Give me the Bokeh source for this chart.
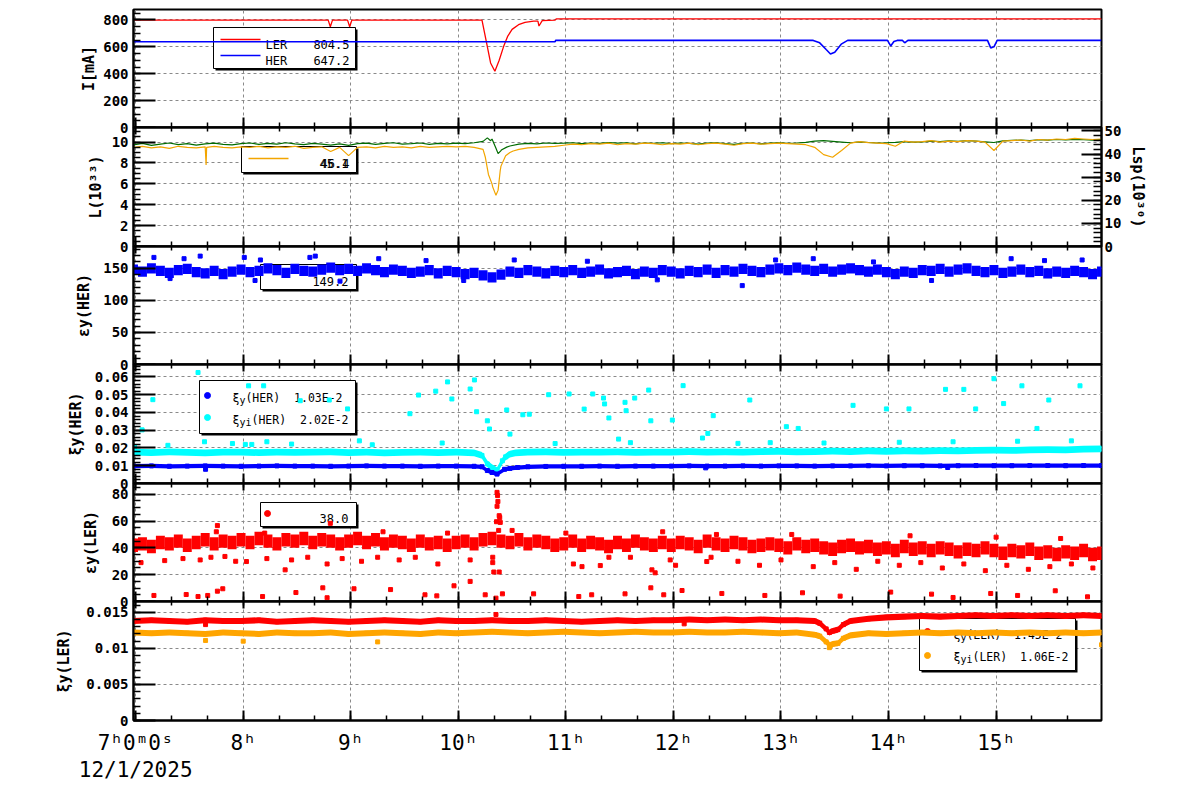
import numpy as np
from bokeh.plotting import figure
from bokeh.layouts import column
from bokeh.models import Range1d, LinearAxis, FixedTicker, CustomJSTickFormatter
from bokeh.core.properties import value
from bokeh.embed import file_html
from bokeh.resources import INLINE

# ------------------------------------------------------------------ data
X_START, X_END = 6.98, 15.98          # hours of 12/1/2025
HOURS = [7, 8, 9, 10, 11, 12, 13, 14, 15]
HOUR_LABELS = ["7ʰ0ᵐ0ˢ", "8ʰ", "9ʰ", "10ʰ", "11ʰ", "12ʰ", "13ʰ", "14ʰ", "15ʰ"]
DATE_LABEL = "12/1/2025"
TITLES = ["I[mA]", "L(10³³)", "εy(HER)", "ξy(HER)", "εy(LER)", "ξy(LER)"]
RIGHT_TITLE = "Lsp(10³⁰)"

# beam currents [mA]
LER_T = [6.98, 8.79, 8.81, 8.83, 8.97, 8.99, 9.01, 10.22, 10.26, 10.30, 10.34, 10.38, 10.42, 10.46,
         10.50, 10.56, 10.62, 10.70, 10.74, 10.75, 10.78, 10.90, 10.91, 15.98]
LER_MA = [799, 799, 750, 799, 799, 750, 799, 799, 640, 480, 418, 500, 600, 680,
          730, 765, 782, 792, 792, 755, 795, 799, 808, 808]
HER_T = [6.98, 10.90, 10.905, 13.30, 13.36, 13.42, 13.46, 13.50, 13.56, 13.62, 13.99, 14.02, 14.05,
         14.08, 14.13, 14.15, 14.18, 14.92, 14.95, 14.98, 15.01, 15.98]
HER_MA = [638, 638, 648, 648, 630, 580, 547, 560, 620, 648, 648, 607, 640, 648, 648, 630, 648,
          648, 592, 600, 648, 648]
CURRENT_NAMES = ["LER", "HER"]
CURRENT_LAST = ["804.5", "647.2"]

# 5-minute samples
T5 = X_START + np.arange(109) / 12.0
# luminosity L [1e33]
L_V = [9.5, 9.6, 9.45, 9.55, 9.4, 9.6, 9.5, 9.45, 9.55, 9.6, 9.5, 9.45,
       9.55, 9.5, 9.6, 9.45, 9.55, 9.5, 9.6, 9.4, 9.5, 9.55, 9.1, 9.5,
       8.7, 9.5, 9.55, 9.45, 9.6, 9.5, 9.55, 9.45, 9.6, 9.5, 9.55, 9.6,
       9.55, 9.6, 9.5, 9.3, 6.0, 7.7, 9.0, 9.3, 9.45, 9.5, 9.55, 9.6,
       9.7, 9.8, 9.75, 9.85, 9.8, 9.9, 9.75, 9.85, 9.8, 9.9, 9.85, 9.75,
       9.85, 9.8, 9.9, 9.75, 9.85, 9.9, 9.8, 9.7, 9.85, 9.9, 9.8, 9.85,
       9.9, 9.85, 9.8, 9.75, 9.5, 8.8, 8.55, 9.2, 9.9, 10.05, 9.95, 9.9,
       9.85, 9.6, 10.1, 10.0, 10.05, 10.15, 10.0, 10.1, 10.05, 10.15, 10.1, 10.0,
       9.2, 10.1, 10.15, 10.2, 10.1, 10.25, 10.2, 10.3, 10.25, 10.35, 10.3, 10.25, 10.3]
L_EXTRA_T = [7.655, 7.66, 10.25, 10.28, 10.32, 10.35, 10.37, 10.39, 10.44, 10.51]
L_EXTRA_V = [7.8, 9.5, 8.6, 6.9, 5.7, 4.9, 5.4, 7.3, 8.7, 9.15]
# specific luminosity Lsp [1e30]
LSP_V = [44.0, 44.6, 43.8, 44.3, 44.8, 44.1, 44.5, 43.9, 44.4, 44.7, 44.2, 44.0,
         44.5, 44.8, 44.2, 44.6, 44.3, 44.9, 44.4, 44.1, 44.6, 44.3, 43.9, 44.4,
         43.8, 44.5, 44.7, 44.2, 44.6, 44.9, 44.3, 44.5, 44.8, 44.2, 44.6, 44.4,
         44.7, 44.5, 44.9, 45.5, 46.5, 41.5, 43.5, 44.3, 44.6, 44.4, 44.8, 44.6,
         44.7, 44.9, 44.5, 44.8, 44.6, 45.0, 44.7, 44.9, 44.4, 44.8, 44.6, 44.9,
         44.5, 44.8, 44.6, 44.3, 44.7, 44.9, 44.5, 44.2, 44.6, 44.8, 44.4, 44.7,
         44.9, 44.6, 44.8, 45.1, 45.6, 45.8, 45.5, 45.2, 44.9, 45.3, 45.0, 44.8,
         44.9, 45.1, 45.4, 45.2, 45.3, 45.6, 45.4, 45.7, 45.5, 45.8, 45.6, 45.3,
         45.0, 45.7, 45.9, 46.1, 45.8, 46.2, 46.0, 46.3, 46.1, 46.4, 46.2, 46.0, 46.3]
LSP_EXTRA_T = [10.27, 10.30, 10.35, 10.37, 10.40, 10.45]
LSP_EXTRA_V = [47.0, 45.8, 42.5, 40.2, 41.8, 43.0]
LUMI_LEGEND = ["45.1", "46.4"]

# vertical emittance HER [pm]
EPSY_HER = [148, 145, 150, 146, 143, 147, 149, 144, 142, 146, 141, 145,
            148, 144, 146, 150, 147, 143, 149, 146, 145, 148, 151, 147,
            149, 146, 150, 147, 144, 148, 146, 143, 145, 147, 142, 146,
            144, 141, 143, 139, 136, 140, 145, 143, 147, 145, 142, 146,
            144, 147, 143, 145, 148, 142, 144, 146, 141, 145, 143, 147,
            145, 142, 146, 144, 148, 143, 147, 145, 149, 146, 144, 148,
            150, 147, 151, 148, 146, 149, 145, 148, 150, 147, 145, 148,
            144, 141, 145, 143, 147, 146, 149, 145, 148, 150, 146, 144,
            147, 143, 145, 148, 144, 146, 142, 145, 143, 146, 144, 141, 145]
EPSY_HER_SPREAD = 8
EPSY_HER_OUT_T = [7.17, 7.32, 7.45, 7.60, 8.01, 8.11, 8.16, 8.62, 8.67, 8.90, 9.26, 9.70, 10.05, 10.52,
                  11.20, 11.85, 12.64, 12.95, 13.30, 13.86, 14.40, 15.14, 15.45, 15.80]
EPSY_HER_OUT_V = [167, 134, 165, 169, 167, 131, 163, 167, 169, 130, 165, 162, 131, 163,
                  161, 132, 123, 163, 165, 160, 131, 165, 162, 163]
EPSY_HER_LEGEND = "149.2"

# beam-beam parameters, 10-minute samples
T10 = X_START + np.arange(55) / 6.0
XIY_HER = [.0098, .0099, .0097, .0098, .0099, .0098, .0097, .0098, .0099, .0098,
           .0098, .0097, .0098, .0099, .0098, .0098, .0097, .0098, .0098, .0097,
           .0062, .0085, .0094, .0096, .0097, .0097, .0098, .0097, .0098, .0098,
           .0098, .0099, .0098, .0098, .0099, .0098, .0099, .0099, .0098, .0099,
           .0099, .0100, .0099, .0100, .0100, .0099, .0100, .0101, .0100, .0100,
           .0101, .0101, .0100, .0101, .0101]
XIY_HER_EXTRA_T = [10.22, 10.27, 10.36, 10.43, 10.55]
XIY_HER_EXTRA_V = [.0094, .0073, .0053, .0080, .0090]
XIY_HER_OUT_T = [7.65, 12.30, 14.55]
XIY_HER_OUT_V = [.0080, .0088, .0090]
XIYI_HER = [.0176, .0174, .0178, .0175, .0173, .0177, .0176, .0174, .0177, .0175,
            .0176, .0178, .0174, .0176, .0173, .0175, .0177, .0174, .0176, .0172,
            .0090, .0166, .0176, .0178, .0175, .0177, .0176, .0178, .0175, .0177,
            .0176, .0179, .0177, .0178, .0176, .0179, .0181, .0178, .0180, .0182,
            .0180, .0183, .0181, .0184, .0182, .0185, .0183, .0186, .0188, .0186,
            .0189, .0191, .0190, .0193, .0195]
XIYI_HER_EXTRA_T = [10.22, 10.27, 10.36, 10.41, 10.44, 10.53]
XIYI_HER_EXTRA_V = [.0158, .0110, .0073, .0128, .0150, .0172]
XIYI_HER_OUT_T = [6.99, 7.06, 7.16, 7.58, 7.64, 8.02, 8.05, 8.08, 8.19, 8.22, 8.53, 8.80, 8.97, 9.08,
                  9.55, 9.63, 9.79, 9.90, 9.94, 10.11, 10.15, 10.17, 10.27, 10.29, 10.45, 10.48, 10.60,
                  10.66, 10.84, 11.03, 11.17, 11.25, 11.35, 11.36, 11.40, 11.49, 11.55, 11.56, 11.64,
                  11.77, 11.79, 11.99, 12.09, 12.27, 12.32, 12.37, 12.71, 13.05, 13.16, 13.67, 13.98,
                  14.19, 14.53, 14.70, 14.81, 14.98, 15.07, 15.24, 15.38, 15.49, 15.78,
                  7.30, 7.90, 8.45, 9.20, 9.85, 10.90, 11.60, 12.60, 12.90, 13.40, 14.10, 14.60,
                  15.20, 15.70]
XIYI_HER_OUT_V = [.0207, .0302, .0472, .0625, .0235, .0220, .0550, .0220, .0550, .0235, .0466, .0470,
                  .0420, .0240, .0393, .0498, .0520, .0572, .0476, .0532, .0583, .0404, .0353, .0307,
                  .0414, .0278, .0387, .0390, .0500, .0504, .0419, .0504, .0481, .0448, .0369, .0250,
                  .0457, .0410, .0481, .0526, .0353, .0357, .0551, .0256, .0282, .0382, .0470, .0320,
                  .0310, .0440, .0420, .0420, .0530, .0530, .0420, .0590, .0450, .0550, .0310, .0470,
                  .0550,
                  .0215, .0225, .0222, .0218, .0228, .0225, .0230, .0226, .0230, .0228, .0232, .0235,
                  .0238, .0240]
XI_HER_LEGEND = ["1.03E-2", "2.02E-2"]

# vertical emittance LER [pm]
EPSY_LER = [42, 43, 41, 44, 43, 45, 42, 44, 46, 43, 45, 44,
            46, 44, 47, 45, 43, 46, 45, 47, 44, 46, 45, 43,
            45, 47, 44, 46, 43, 45, 44, 42, 45, 43, 44, 42,
            44, 45, 43, 46, 47, 45, 44, 46, 43, 45, 44, 42,
            43, 45, 42, 44, 43, 41, 44, 42, 45, 43, 42, 44,
            42, 44, 43, 41, 45, 43, 42, 44, 43, 41, 42, 43,
            42, 40, 43, 41, 42, 40, 39, 41, 42, 40, 41, 39,
            40, 38, 41, 39, 40, 38, 40, 39, 37, 39, 38, 40,
            38, 36, 38, 37, 39, 36, 37, 35, 37, 36, 38, 35, 36]
EPSY_LER_SPREAD = 5
EPSY_LER_OUT_T = [7.17, 7.47, 7.58, 7.67, 7.76, 7.81, 8.18, 8.49, 8.74, 8.78, 9.03, 9.37, 9.69, 9.80,
                  9.96, 10.11, 10.25, 10.35, 10.41, 10.70, 11.12, 11.24, 11.55, 11.79, 11.91, 12.08,
                  12.45, 12.85, 13.20, 13.55, 14.02, 14.40, 14.60, 14.95, 15.20, 15.55, 15.85,
                  10.36, 10.365, 10.368, 10.36, 10.38, 10.385, 10.39, 10.355, 10.375,
                  7.05, 7.27, 7.44, 7.60, 7.70, 7.83, 7.93, 8.03, 8.22, 8.39, 8.45, 8.60, 8.78, 8.92,
                  9.10, 9.25, 9.45, 9.60, 9.81, 10.11, 10.32, 10.32, 10.33, 10.38, 11.07, 11.15, 11.32,
                  11.40, 11.60, 11.80, 11.83, 11.97, 12.02, 12.31, 12.35, 12.60, 12.80, 13.00, 13.30,
                  13.50, 13.70, 13.90, 14.10, 14.30, 14.50, 14.70, 14.90, 15.10, 15.30, 15.50, 15.70,
                  15.90,
                  7.76, 7.75, 8.81, 8.20, 9.30, 9.90, 10.50, 11.00, 11.90, 12.40, 13.10, 14.20, 15.00,
                  15.60]
EPSY_LER_OUT_V = [4.5, 5.2, 3.7, 4.5, 7.7, 9.5, 3.7, 6.7, 10.2, 2.8, 9.5, 8.9, 5.0, 4.2,
                  11.7, 15.0, 5.0, 2.5, 5.7, 5.7, 3.7, 5.0, 5.7, 10.2, 5.0, 8.2,
                  6.0, 4.5, 6.5, 4.0, 7.0, 5.5, 3.0, 6.0, 4.5, 8.0, 3.5,
                  81.4, 79.0, 74.6, 71.0, 64.0, 62.6, 59.0, 59.5, 53.0,
                  29, 30.5, 32, 31, 33, 33.6, 30, 29.8, 32, 23.6, 31, 33, 28, 32,
                  30, 33, 31, 33, 28, 31, 33, 29, 22, 22, 28, 26, 26.8,
                  33, 33, 23.6, 21.4, 31, 27, 29.8, 33, 30, 27, 31, 26,
                  29, 24, 30, 27, 29, 25, 28, 23, 27, 24, 26, 28,
                  25,
                  56.6, 52, 58.3, 51, 52, 51, 53, 51, 52, 50, 50, 49, 48,
                  47]
EPSY_LER_LEGEND = "38.0"

XIY_LER = [.0138, .0139, .0138, .0137, .0139, .0138, .0138, .0139, .0137, .0138,
           .0139, .0138, .0137, .0138, .0139, .0138, .0137, .0139, .0138, .0138,
           .0139, .0138, .0138, .0139, .0138, .0137, .0138, .0139, .0138, .0139,
           .0139, .0140, .0139, .0140, .0139, .0140, .0139, .0139, .0138, .0124,
           .0138, .0141, .0143, .0144, .0145, .0144, .0145, .0146, .0145, .0146,
           .0145, .0146, .0145, .0146, .0145]
XIY_LER_EXTRA_T = [13.36, 13.42, 13.45, 13.53, 13.58]
XIY_LER_EXTRA_V = [.0135, .0127, .0122, .0126, .0133]
XIY_LER_OUT_T = [7.65, 10.35, 12.10]
XIY_LER_OUT_V = [.0133, .0147, .0134]
XIYI_LER = [.0122, .0121, .0122, .0121, .0120, .0122, .0121, .0120, .0122, .0121,
            .0121, .0122, .0120, .0121, .0122, .0121, .0120, .0122, .0121, .0122,
            .0123, .0122, .0121, .0122, .0123, .0122, .0121, .0122, .0123, .0122,
            .0122, .0123, .0122, .0122, .0123, .0122, .0121, .0122, .0119, .0106,
            .0118, .0121, .0120, .0121, .0122, .0121, .0122, .0121, .0122, .0121,
            .0122, .0121, .0122, .0121, .0122]
XIYI_LER_EXTRA_T = [13.36, 13.42, 13.46, 13.53, 13.58]
XIYI_LER_EXTRA_V = [.0117, .0109, .0104, .0107, .0114]
XIYI_LER_OUT_T = [7.65, 8.00, 9.25, 13.45, 15.98]
XIYI_LER_OUT_V = [.0111, .0110, .0109, .0101, .0105]
XI_LER_LEGEND = ["1.45E-2", "1.06E-2"]

# ------------------------------------------------------------------ layout helpers
FONT = "DejaVu Sans Mono"
FRAME_LEFT = 133          # page px of frame left edge
FRAME_W = 968
TOPS = [9, 127, 246, 364, 483, 601]
HS = [118, 119, 118, 119, 118, 119]
YMAX = [878, 11.4, 184, 0.067, 88, 0.0165]
LSP_MAX = 51.5
TITLE_STANDOFF = [2, 4, 7, 7, 9, 10]
X_MINOR = [7 + k / 3.0 for k in range(27)]
OVERLAP = 8   # transparent margins shared by neighbouring panels, so edge labels are not cut

FMT = "return String(parseFloat(tick.toFixed(6)));"
FMT_NONE = "return '';"


def bottom_of(i):
    return TOPS[i] + HS[i]


def dx(px):
    return X_START + (px - FRAME_LEFT) / FRAME_W * (X_END - X_START)


def dy(i, py):
    return (bottom_of(i) - py) / HS[i] * YMAX[i]


def merged(tg, vg, te, ve):
    t = np.concatenate([np.asarray(tg, float), np.asarray(te, float)])
    v = np.concatenate([np.asarray(vg, float), np.asarray(ve, float)])
    o = np.argsort(t, kind="stable")
    return t[o], v[o]


def style_y(ax, tick_in=22, minor_in=7, standoff=5):
    ax.axis_line_color = "black"
    ax.axis_line_width = 2
    ax.major_tick_in = tick_in
    ax.major_tick_out = 0
    ax.minor_tick_in = minor_in
    ax.minor_tick_out = 0
    ax.major_tick_line_width = 2
    ax.minor_tick_line_width = 1.5
    ax.major_tick_line_color = "black"
    ax.minor_tick_line_color = "black"
    ax.major_label_text_font = FONT
    ax.major_label_text_font_size = "14px"
    ax.major_label_text_font_style = "bold"
    ax.major_label_text_color = "black"
    ax.major_label_standoff = standoff
    ax.axis_label_text_font = FONT
    ax.axis_label_text_font_size = "15px"
    ax.axis_label_text_font_style = "bold"
    ax.axis_label_text_color = "black"


def style_x(ax, tick_in, minor_in, labelled=False):
    ax.ticker = FixedTicker(ticks=HOURS, minor_ticks=X_MINOR)
    ax.axis_line_color = "black"
    ax.axis_line_width = 2
    ax.major_tick_in = tick_in
    ax.major_tick_out = 0
    ax.minor_tick_in = minor_in
    ax.minor_tick_out = 0
    ax.major_tick_line_width = 2
    ax.minor_tick_line_width = 1.5
    ax.major_tick_line_color = "black"
    ax.minor_tick_line_color = "black"
    if labelled:
        ax.major_label_overrides = {h: s for h, s in zip(HOURS, HOUR_LABELS)}
        ax.major_label_text_font = FONT
        ax.major_label_text_font_size = "21px"
        ax.major_label_text_color = "black"
        ax.major_label_standoff = 10
    else:
        ax.formatter = CustomJSTickFormatter(code=FMT_NONE)
        ax.major_label_text_font_size = "0px"
        ax.major_label_standoff = 0


def make_panel(i, yticks, yminor):
    kw = {}
    if i > 0:
        kw["styles"] = {"margin-top": f"-{2 * OVERLAP}px"}
    p = figure(frame_width=FRAME_W, frame_height=HS[i],
               x_range=Range1d(X_START, X_END), y_range=Range1d(0, YMAX[i]),
               output_backend="svg", toolbar_location=None,
               min_border_left=FRAME_LEFT, min_border_right=91,
               min_border_top=TOPS[0] if i == 0 else OVERLAP,
               min_border_bottom=70 if i == 5 else OVERLAP, **kw)
    p.outline_line_color = "black"
    p.outline_line_width = 2
    p.background_fill_color = "white"
    p.border_fill_color = None
    bottom_axis = p.xaxis[0]
    style_x(bottom_axis, 10, 5, labelled=(i == 5))
    ya = p.yaxis[0]
    ya.ticker = FixedTicker(ticks=list(yticks), minor_ticks=yminor)
    ya.formatter = CustomJSTickFormatter(code=FMT)
    style_y(ya)
    ya.axis_label = TITLES[i]
    ya.axis_label_standoff = TITLE_STANDOFF[i]
    if i > 0:
        ta = LinearAxis()
        style_x(ta, 7, 4)
        p.add_layout(ta, "above")
    p.xgrid[0].ticker = FixedTicker(ticks=HOURS)
    p.ygrid[0].ticker = FixedTicker(ticks=list(yticks))
    for g in (p.xgrid[0], p.ygrid[0]):
        g.grid_line_color = "#8a8a8a"
        g.grid_line_dash = "3 3"
        g.grid_line_width = 1
    return p


def leg_box(p, i, x0, y0, x1, y1):
    p.quad(left=[dx(x0 + 2)], right=[dx(x1 + 2)], top=[dy(i, y0 + 2)], bottom=[dy(i, y1 + 2)],
           fill_color="black", line_color=None)
    p.quad(left=[dx(x0)], right=[dx(x1)], top=[dy(i, y0)], bottom=[dy(i, y1)],
           fill_color="white", line_color="black", line_width=1)


def leg_text(p, i, px, py, pieces, align="left"):
    off = 0.0
    for s, size, ysh in pieces:
        p.text(x=[dx(px)], y=[dy(i, py)], text=[s], x_offset=off, y_offset=ysh,
               text_font=value(FONT), text_font_size=value(f"{size}px"),
               text_align=align, text_baseline="alphabetic", text_color="black")
        off += len(s) * 0.602 * size


def leg_line(p, i, x0, x1, py, color):
    p.line(x=[dx(x0), dx(x1)], y=[dy(i, py), dy(i, py)], line_color=color, line_width=1.5)


def leg_dot(p, i, px, py, color):
    p.scatter(x=[dx(px)], y=[dy(i, py)], marker="circle", size=6, color=color)


def band(p, t, v, hw, color, size=4):
    t = np.asarray(t)
    v = np.asarray(v)
    p.varea(x=t, y1=v - hw, y2=v + hw, fill_color=color)
    p.scatter(x=t, y=v, marker="square", size=size, color=color)


# ------------------------------------------------------------------ panel 1: currents
p1 = make_panel(0, [0, 200, 400, 600, 800], list(range(0, 900, 50)))
leg_box(p1, 0, 213, 27, 355, 68)
leg_line(p1, 0, 220, 260, 39, "red")
leg_line(p1, 0, 220, 260, 55, "blue")
leg_text(p1, 0, 265, 44, [(CURRENT_NAMES[0], 12, 0)])
leg_text(p1, 0, 349, 44, [(CURRENT_LAST[0], 12, 0)], align="right")
leg_text(p1, 0, 265, 60, [(CURRENT_NAMES[1], 12, 0)])
leg_text(p1, 0, 349, 60, [(CURRENT_LAST[1], 12, 0)], align="right")
p1.line(LER_T, LER_MA, line_color="red", line_width=1.3)
p1.line(HER_T, HER_MA, line_color="blue", line_width=1.6)

# ------------------------------------------------------------------ panel 2: luminosity
p2 = make_panel(1, [0, 2, 4, 6, 8, 10], [k * 0.5 for k in range(23)])
p2.extra_y_ranges = {"lsp": Range1d(0, LSP_MAX)}
ra = LinearAxis(y_range_name="lsp",
                ticker=FixedTicker(ticks=[0, 10, 20, 30, 40, 50], minor_ticks=list(range(0, 52, 2))),
                formatter=CustomJSTickFormatter(code=FMT))
style_y(ra, tick_in=20, minor_in=8, standoff=3)
ra.axis_label = RIGHT_TITLE
ra.axis_label_standoff = 5
p2.add_layout(ra, "right")
leg_box(p2, 1, 241, 146, 356, 172)
leg_line(p2, 1, 248, 288, 158, "#f2a500")
leg_text(p2, 1, 348, 163, [(LUMI_LEGEND[0], 12, 0)], align="right")
leg_text(p2, 1, 349, 163, [(LUMI_LEGEND[1], 12, 0)], align="right")
lt, lv = merged(T5, L_V, L_EXTRA_T, L_EXTRA_V)
st, sv = merged(T5, LSP_V, LSP_EXTRA_T, LSP_EXTRA_V)
p2.line(st, sv, y_range_name="lsp", line_color="#006b00", line_width=1.2)
p2.line(lt, lv, line_color="#f2a500", line_width=1.2)

# ------------------------------------------------------------------ panel 3: emittance HER
p3 = make_panel(2, [0, 50, 100, 150], list(range(0, 190, 10)))
leg_box(p3, 2, 260, 264, 356, 289)
leg_text(p3, 2, 348, 281, [(EPSY_HER_LEGEND, 12, 0)], align="right")
p3.rect(x=T5, y=EPSY_HER, width=1 / 12.0, height=2 * EPSY_HER_SPREAD, fill_color="blue", line_color=None)
p3.scatter(EPSY_HER_OUT_T, EPSY_HER_OUT_V, marker="square", size=4, color="blue")

# ------------------------------------------------------------------ panel 4: xi HER
p4 = make_panel(3, [0, 0.01, 0.02, 0.03, 0.04, 0.05, 0.06], [k * 0.002 for k in range(34)])
leg_box(p4, 3, 199, 380, 355, 433)
leg_dot(p4, 3, 207, 395, "blue")
leg_dot(p4, 3, 207, 417, "cyan")
leg_text(p4, 3, 232, 397, [("ξ", 11.5, 0), ("y", 10, 3), ("(HER)", 11.5, 0)])
leg_text(p4, 3, 342, 397, [(XI_HER_LEGEND[0], 11.5, 0)], align="right")
leg_text(p4, 3, 232, 419, [("ξ", 11.5, 0), ("yi", 10, 3), ("(HER)", 11.5, 0)])
leg_text(p4, 3, 348, 419, [(XI_HER_LEGEND[1], 11.5, 0)], align="right")
ct, cv = merged(T10, XIYI_HER, XIYI_HER_EXTRA_T, XIYI_HER_EXTRA_V)
band(p4, ct, cv, 0.0019, "cyan")
p4.scatter(XIYI_HER_OUT_T, XIYI_HER_OUT_V, marker="square", size=4, color="cyan")
bt, bv = merged(T10, XIY_HER, XIY_HER_EXTRA_T, XIY_HER_EXTRA_V)
band(p4, bt, bv, 0.0012, "blue")
p4.scatter(XIY_HER_OUT_T, XIY_HER_OUT_V, marker="square", size=4, color="blue")

# ------------------------------------------------------------------ panel 5: emittance LER
p5 = make_panel(4, [0, 20, 40, 60, 80], list(range(0, 90, 5)))
leg_box(p5, 4, 260, 502, 356, 526)
leg_dot(p5, 4, 267, 513, "red")
leg_text(p5, 4, 348, 518, [(EPSY_LER_LEGEND, 12, 0)], align="right")
p5.rect(x=T5, y=EPSY_LER, width=1 / 12.0, height=2 * EPSY_LER_SPREAD, fill_color="red", line_color=None)
p5.scatter(EPSY_LER_OUT_T, EPSY_LER_OUT_V, marker="square", size=4, color="red")

# ------------------------------------------------------------------ panel 6: xi LER
p6 = make_panel(5, [0, 0.005, 0.01, 0.015], [k * 0.001 for k in range(17)])
leg_box(p6, 5, 919, 618, 1075, 670)
leg_dot(p6, 5, 927, 631, "red")
leg_dot(p6, 5, 927, 655, "#ffa500")
leg_text(p6, 5, 953, 634, [("ξ", 11.5, 0), ("y", 10, 3), ("(LER)", 11.5, 0)])
leg_text(p6, 5, 1062, 634, [(XI_LER_LEGEND[0], 11.5, 0)], align="right")
leg_text(p6, 5, 953, 656, [("ξ", 11.5, 0), ("yi", 10, 3), ("(LER)", 11.5, 0)])
leg_text(p6, 5, 1068, 656, [(XI_LER_LEGEND[1], 11.5, 0)], align="right")
rt, rv = merged(T10, XIY_LER, XIY_LER_EXTRA_T, XIY_LER_EXTRA_V)
band(p6, rt, rv, 0.00042, "red")
p6.scatter(XIY_LER_OUT_T, XIY_LER_OUT_V, marker="square", size=4, color="red")
ot, ov = merged(T10, XIYI_LER, XIYI_LER_EXTRA_T, XIYI_LER_EXTRA_V)
band(p6, ot, ov, 0.00042, "#ffa500")
p6.scatter(XIYI_LER_OUT_T, XIYI_LER_OUT_V, marker="square", size=4, color="#ffa500")

# date under the first time label
da = LinearAxis(ticker=FixedTicker(ticks=[HOURS[0]], minor_ticks=[]))
da.major_label_overrides = {HOURS[0]: DATE_LABEL}
da.axis_line_color = None
da.major_tick_line_color = None
da.minor_tick_line_color = None
da.major_tick_in = 0
da.major_tick_out = 0
da.major_label_standoff = 0
da.major_label_text_font = FONT
da.major_label_text_font_size = "21px"
da.major_label_text_color = "black"
p6.add_layout(da, "below")

layout = column(p1, p2, p3, p4, p5, p6, spacing=0)
open("out.html", "w").write(file_html(layout, INLINE))
